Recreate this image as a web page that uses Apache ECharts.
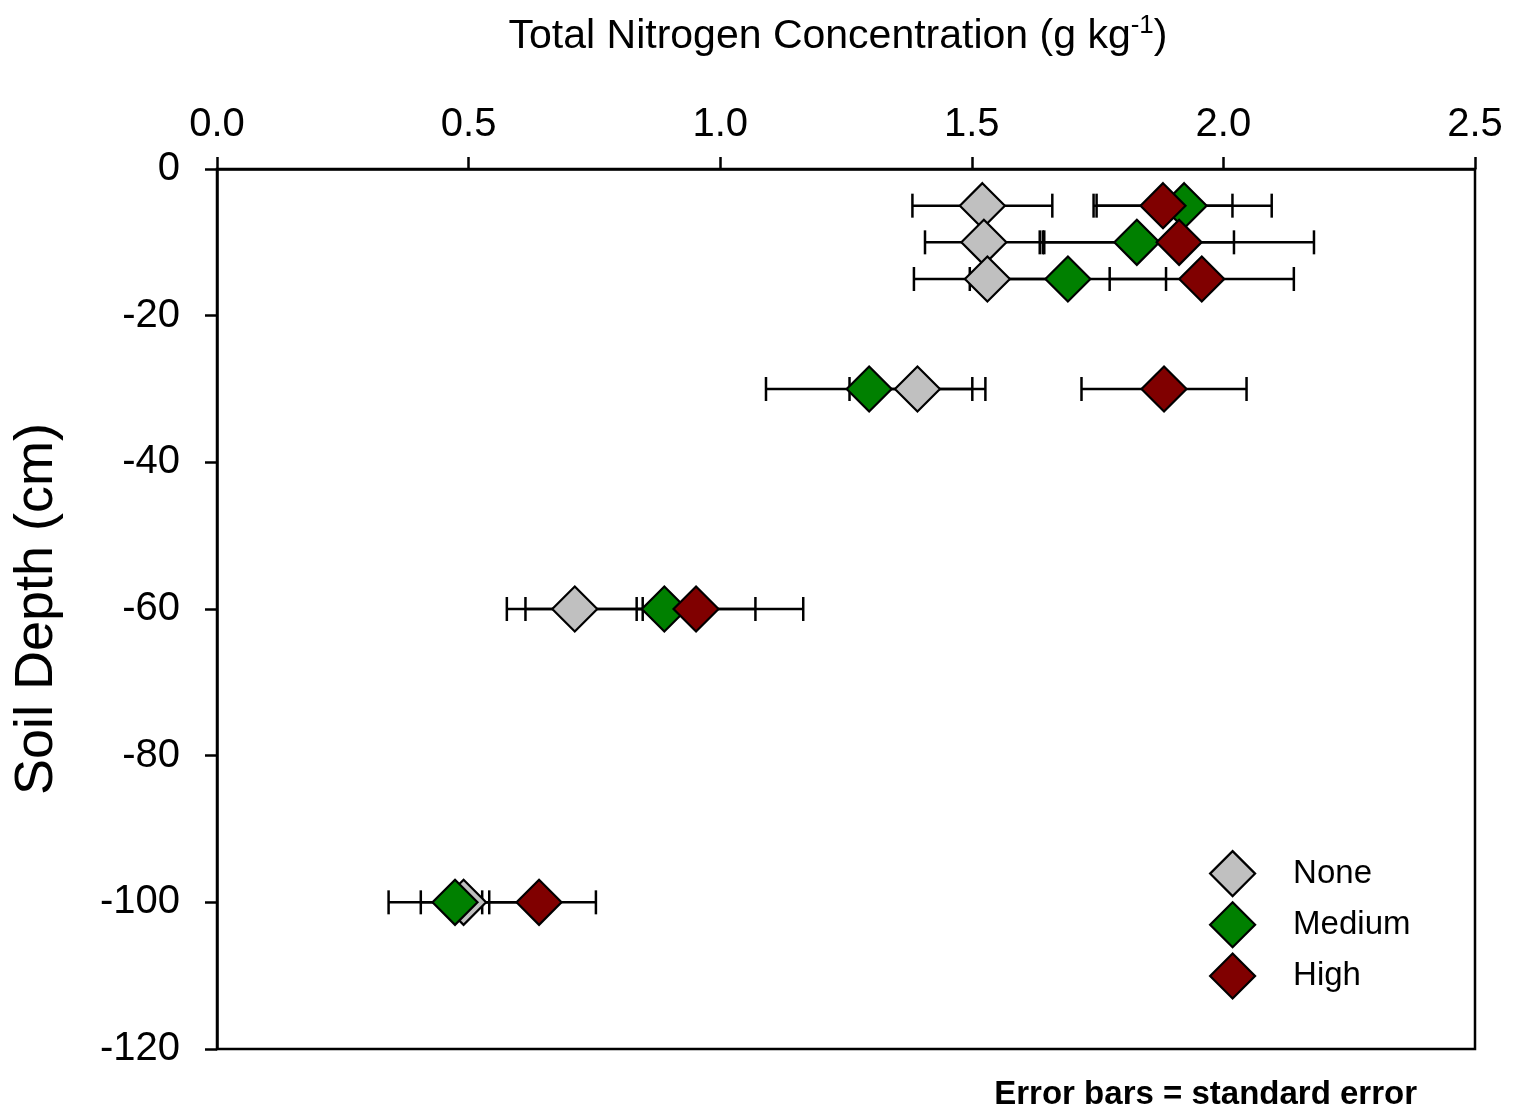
<!DOCTYPE html>
<html>
<head>
<meta charset="utf-8">
<script src="https://cdn.jsdelivr.net/npm/echarts@6/dist/echarts.min.js"></script>
<style>
html,body{margin:0;padding:0;background:#fff;}
#chart{width:1518px;height:1110px;}
</style>
</head>
<body>
<div id="chart"></div>
<script>
// Soil depth (cm) for each sampled layer
var depths = [-5, -10, -15, -30, -60, -100];
// Total nitrogen (g/kg) and standard errors, per treatment
var noneN    = [1.521, 1.524, 1.531, 1.392, 0.711, 0.490];
var noneSE   = [0.139, 0.117, 0.146, 0.135, 0.135, 0.149];
var mediumN  = [1.922, 1.828, 1.691, 1.296, 0.889, 0.473];
var mediumSE = [0.174, 0.193, 0.195, 0.205, 0.276, 0.068];
var highN    = [1.880, 1.912, 1.957, 1.882, 0.952, 0.640];
var highSE   = [0.138, 0.268, 0.183, 0.164, 0.118, 0.113];
var seriesNames = ['None', 'Medium', 'High'];
var seriesColors = ['#C0C0C0', '#008000', '#800000'];
var xTicks = [0, 0.5, 1.0, 1.5, 2.0, 2.5];
var yTicks = [0, -20, -40, -60, -80, -100, -120];

var FONT = '"Liberation Sans", Arial, sans-serif';

function pts(vals) { return vals.map(function (v, i) { return [v, depths[i]]; }); }
function errs(vals, se) { return vals.map(function (v, i) { return [v, depths[i], se[i]]; }); }

function renderErr(params, api) {
  var x = api.value(0), y = api.value(1), se = api.value(2);
  var p0 = api.coord([x - se, y]);
  var p1 = api.coord([x + se, y]);
  var h = 12;
  var st = { stroke: '#000', lineWidth: 2.5 };
  return {
    type: 'group',
    children: [
      { type: 'line', shape: { x1: p0[0], y1: p0[1], x2: p1[0], y2: p1[1] }, style: st },
      { type: 'line', shape: { x1: p0[0], y1: p0[1] - h, x2: p0[0], y2: p0[1] + h }, style: st },
      { type: 'line', shape: { x1: p1[0], y1: p1[1] - h, x2: p1[0], y2: p1[1] + h }, style: st }
    ]
  };
}

var allVals = [noneN, mediumN, highN];
var allSE = [noneSE, mediumSE, highSE];
var series = [];
for (var s = 0; s < 3; s++) {
  series.push({
    name: seriesNames[s] + ' SE',
    type: 'custom',
    renderItem: renderErr,
    data: errs(allVals[s], allSE[s]),
    encode: { x: 0, y: 1 },
    silent: true
  });
  series.push({
    name: seriesNames[s],
    type: 'scatter',
    symbol: 'diamond',
    symbolSize: [45, 45],
    data: pts(allVals[s]),
    itemStyle: { color: seriesColors[s], borderColor: '#000', borderWidth: 2.2, opacity: 1 }
  });
}

var chart = echarts.init(document.getElementById('chart'), null, { renderer: 'canvas' });
chart.setOption({
  animation: false,
  backgroundColor: '#fff',
  textStyle: { fontFamily: FONT },
  title: [
    {
      text: 'Total Nitrogen Concentration (g kg{sup|-1})',
      left: 833, textAlign: 'center', top: 8,
      textStyle: {
        fontFamily: FONT, fontSize: 41, fontWeight: 'normal', color: '#000',
        rich: { sup: { fontFamily: FONT, fontSize: 26, color: '#000', verticalAlign: 'top', padding: [0, 0, 22, 0] } }
      }
    },
    {
      text: 'Error bars = standard error',
      right: 96, top: 1073,
      textStyle: { fontFamily: FONT, fontSize: 33, fontWeight: 'bold', color: '#000' }
    }
  ],
  legend: {
    data: seriesNames,
    orient: 'vertical',
    left: 1204, top: 845,
    itemWidth: 45, itemHeight: 45, itemGap: 4,
    icon: 'diamond',
    itemStyle: { borderColor: '#000', borderWidth: 2.2 },
    textStyle: { fontFamily: FONT, fontSize: 33, color: '#000', padding: [0, 0, 0, 33], lineHeight: 45 }
  },
  grid: { left: 217, right: 43, top: 169, bottom: 61, show: true, borderColor: '#000', borderWidth: 2.5, backgroundColor: 'transparent' },
  xAxis: {
    type: 'value', position: 'top', min: xTicks[0], max: xTicks[xTicks.length - 1], interval: 0.5,
    splitLine: { show: false },
    axisLine: { show: true, lineStyle: { color: '#000', width: 2.5 } },
    axisTick: { show: true, inside: false, length: 12, lineStyle: { color: '#000', width: 2.5 } },
    axisLabel: { fontFamily: FONT, fontSize: 40, color: '#000', margin: 24, formatter: function (v) { return v.toFixed(1); } }
  },
  yAxis: {
    type: 'value', min: yTicks[yTicks.length - 1], max: yTicks[0], interval: 20,
    name: 'Soil Depth (cm)', nameLocation: 'middle', nameRotate: 90, nameGap: 153,
    nameTextStyle: { fontFamily: FONT, fontSize: 54, color: '#000' },
    splitLine: { show: false },
    axisLine: { show: true, lineStyle: { color: '#000', width: 2.5 } },
    axisTick: { show: true, inside: false, length: 12, lineStyle: { color: '#000', width: 2.5 } },
    axisLabel: { fontFamily: FONT, fontSize: 40, color: '#000', margin: 37 }
  },
  series: series
});
</script>
</body>
</html>
